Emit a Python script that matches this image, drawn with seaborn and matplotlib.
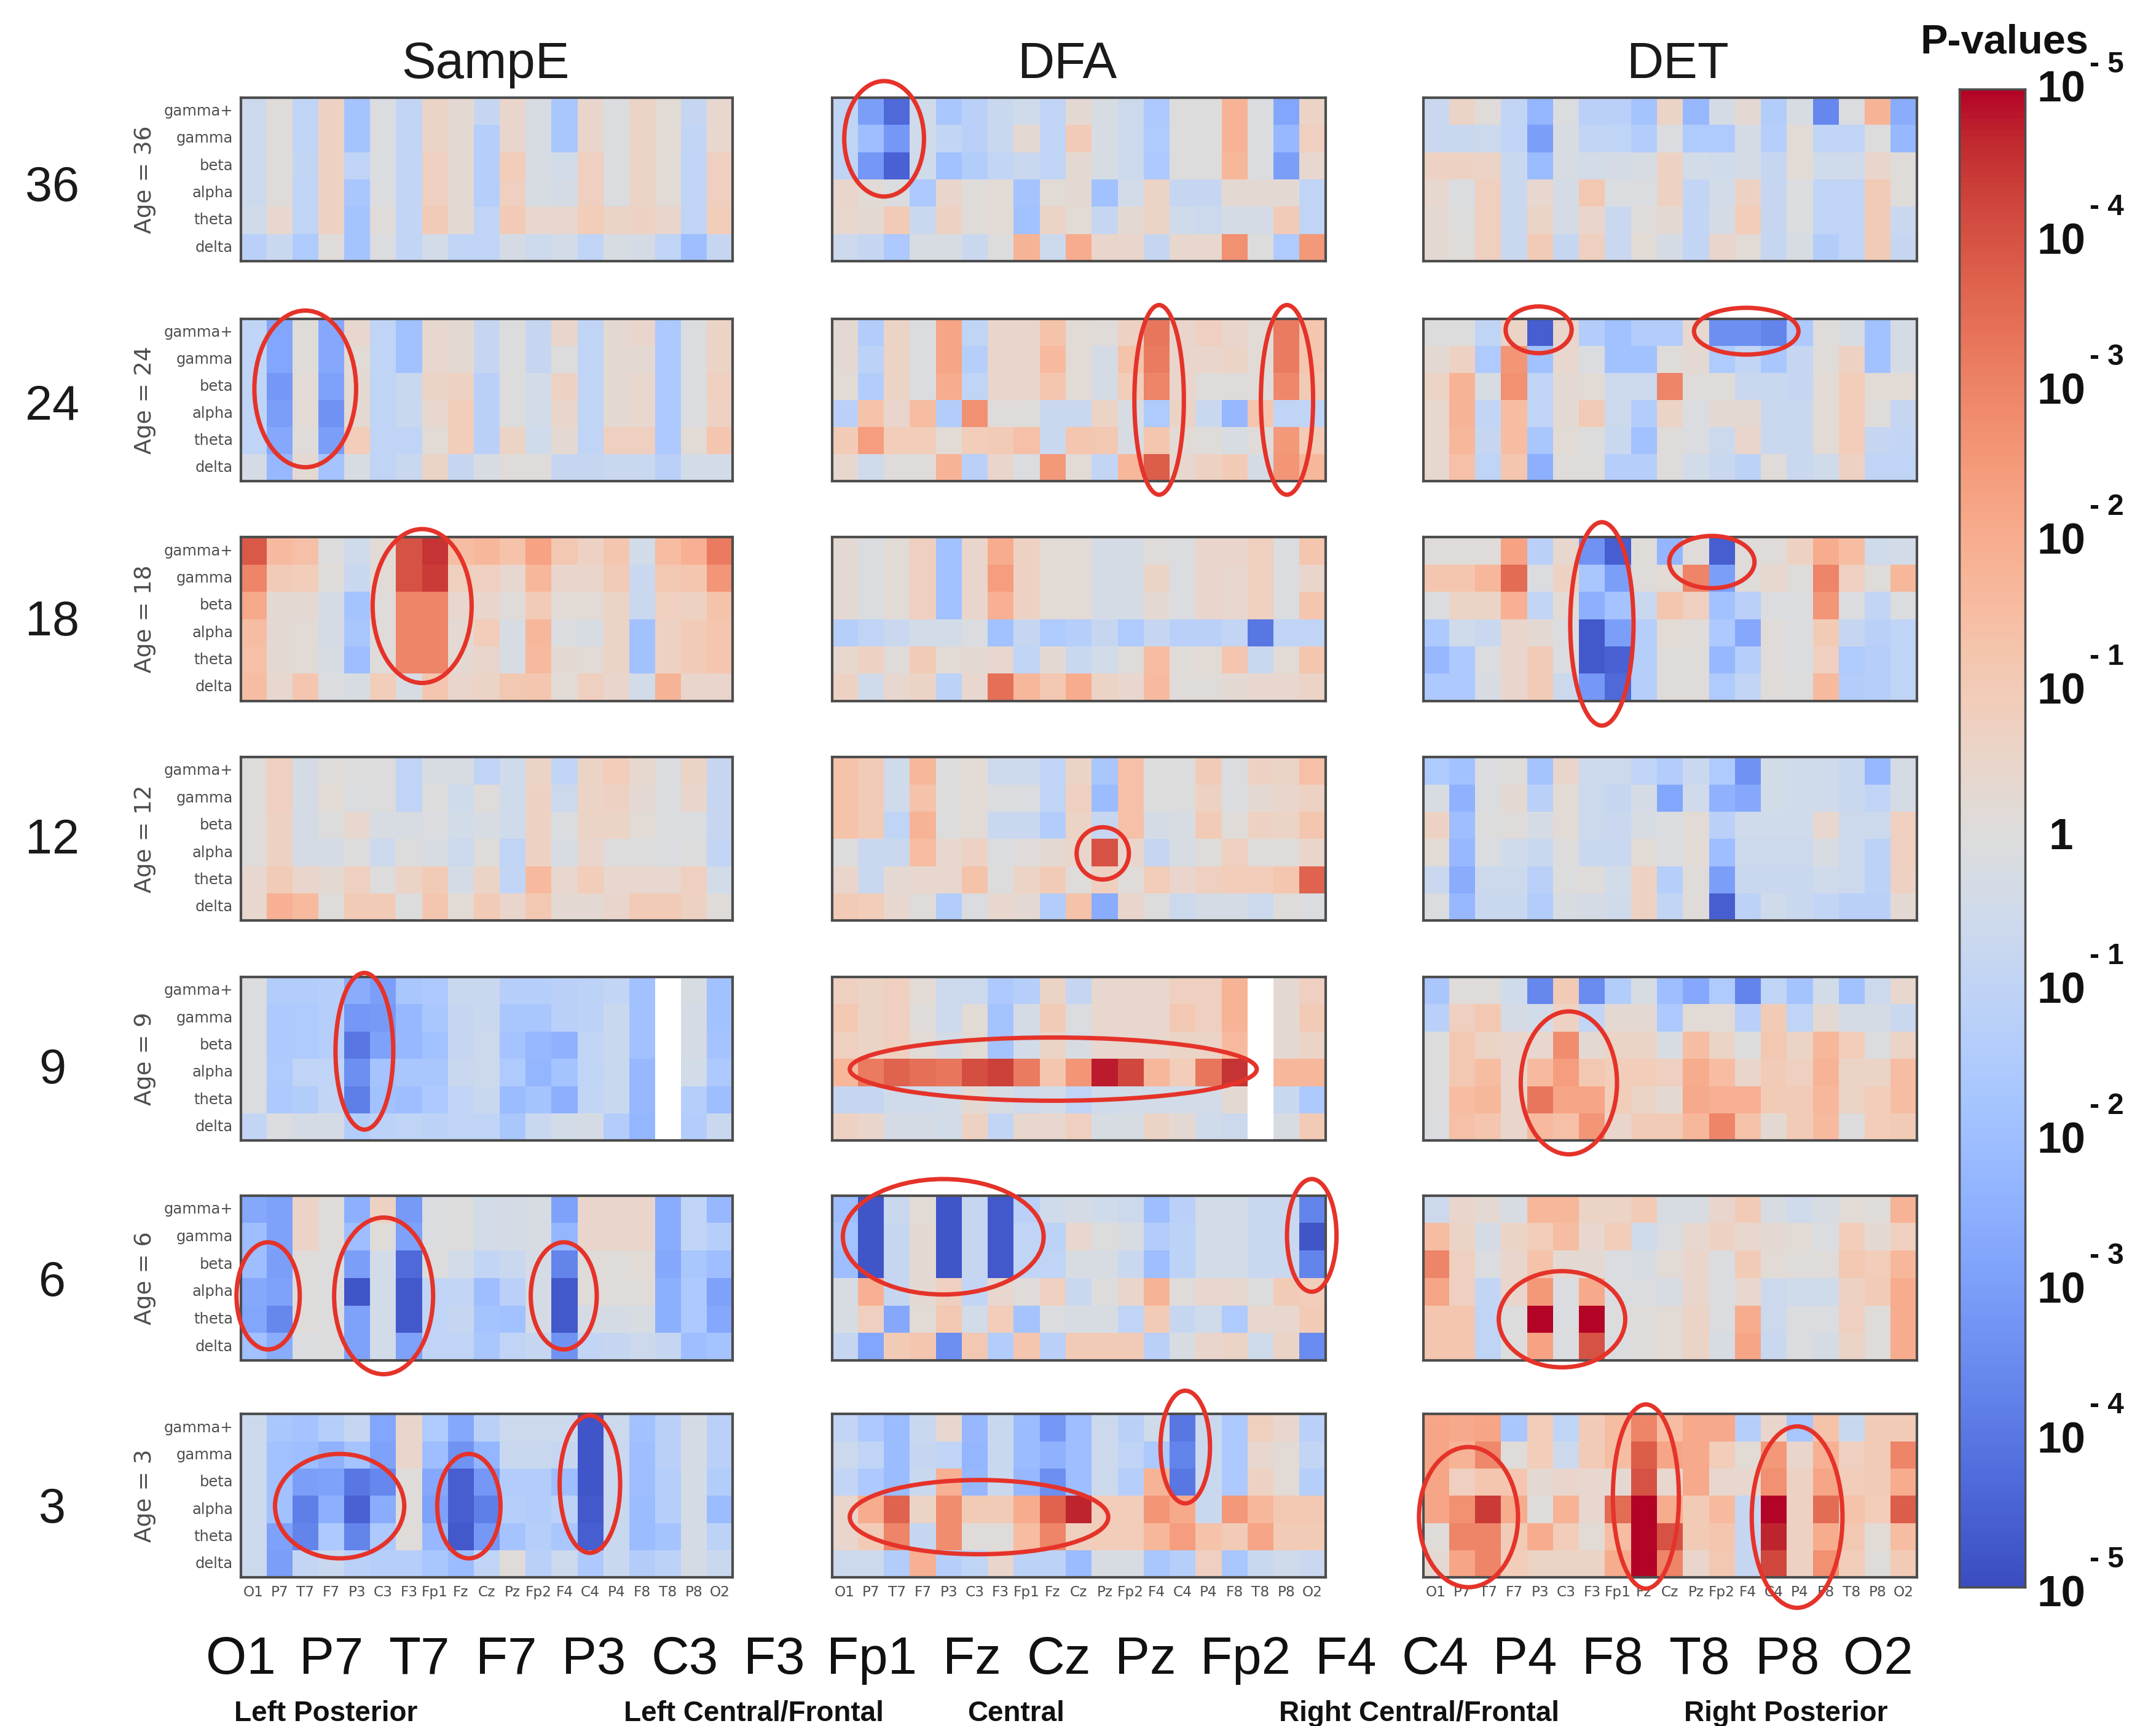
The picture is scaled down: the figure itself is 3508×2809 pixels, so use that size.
import matplotlib
matplotlib.use('Agg')
import matplotlib.pyplot as plt
from matplotlib.patches import Ellipse
import numpy as np
import pandas as pd
import seaborn as sns

nan = np.nan

electrodes = ['O1', 'P7', 'T7', 'F7', 'P3', 'C3', 'F3', 'Fp1', 'Fz', 'Cz', 'Pz', 'Fp2', 'F4', 'C4', 'P4', 'F8', 'T8', 'P8', 'O2']
bands = ['gamma+', 'gamma', 'beta', 'alpha', 'theta', 'delta']
ages = [36, 24, 18, 12, 9, 6, 3]
measures = ['SampE', 'DFA', 'DET']
regions = ['Left Posterior', 'Left Central/Frontal', 'Central', 'Right Central/Frontal', 'Right Posterior']

# signed log10(p): red = positive, blue = negative
sampe_36 = [[-.6,.1,-1,.7,-1.8,-.1,-.9,.6,.3,-.8,.5,-.2,-1.7,.5,-.1,.6,.2,-.8,.4],
            [-.6,.1,-1,.7,-1.8,-.1,-.9,.6,.3,-1.3,.5,-.2,-1.7,.5,-.1,.6,.2,-.9,.4],
            [-.6,.1,-.9,.7,-1,-.1,-.9,.8,.3,-1.3,.9,-.2,-.4,.8,-.1,.6,.2,-1,.8],
            [-.6,.1,-1,.7,-1.7,-.1,-.9,.8,.3,-1.3,.8,-.2,-.3,.8,-.1,.6,.2,-1,.8],
            [-.5,.4,-1,.7,-1.8,.1,-.9,1,.3,-1,1,.4,.4,.9,.6,.7,.5,-1,.9],
            [-1.2,-.7,-1.5,.1,-1.8,-.1,-.9,-.4,-1,-1,-.3,-.6,-.4,-1,-.2,-.3,-1,-2,-.8]]
sampe_24 = [[-1,-2.8,.1,-2.7,.4,-1,-1.9,.4,.3,-.8,0,-.8,.5,-1,.3,.5,-1.6,-.1,.6],
            [-1,-2.8,.1,-2.7,.2,-1,-1.9,.4,.3,-.8,0,-.8,0,-1,.3,.3,-1.6,-.1,.6],
            [-1,-3.2,.2,-2.9,.3,-1,-.7,.6,.7,-1.2,0,-.4,.7,-1,.3,.4,-1.6,-.1,.8],
            [-1,-3,.2,-3.3,.3,-1,-.7,.4,.9,-1.2,0,-.4,.5,-1,.3,.4,-1.6,-.1,.7],
            [-1,-2.7,.1,-3,.9,-1,-1,.2,.9,-1.2,.6,-.5,.3,-1,.8,.8,-1.6,.2,1.2],
            [-.3,-2.2,.3,-1.8,-.2,-1,-.7,.6,-.8,-.2,.1,.1,-.8,-.8,-.7,-.7,-1.2,-.4,-.4]]
sampe_18 = [[3.9,1.6,1.4,0,-.5,.2,4,4.5,1.5,1.7,1.3,2.3,1.1,.7,1.2,-.4,1.5,1.9,3.2],
            [3,1,.9,.1,-.7,.2,4,4.4,.8,.8,.4,1.7,.5,.5,1,-.7,1.1,1.2,2.6],
            [2.1,.3,.3,-.3,-1.8,.1,3,3,.4,.5,.1,1,.2,.2,.6,-.7,.8,.7,1.3],
            [1.5,.3,.2,-.3,-1.7,.1,3,3,.3,.9,-.2,1.7,-.1,-.2,.6,-1.9,.7,1,1.2],
            [1.4,.3,.2,-.2,-2,.1,3,3,.3,.5,-.2,1.6,.3,.2,.6,-1.9,.7,1,1.2],
            [1.5,.4,1.2,-.1,-.2,.9,-.2,1.2,.5,.6,1.1,1.2,.2,.8,.5,-.4,1.8,.5,.5]]
sampe_12 = [[.1,.8,-.3,.1,0,0,-1,-.2,-.2,-1,-.5,.6,-1,.6,.9,.4,-.1,.6,-.8],
            [.1,.8,-.3,.2,-.1,0,-1,0,-.5,.1,-.5,.7,-.6,.6,.7,.3,-.1,.5,-.8],
            [.1,.7,-.3,0,.4,-.2,-.2,-.1,-.4,-.2,-.5,.7,-.1,.6,.6,.2,-.1,-.1,-.8],
            [.1,.7,-.3,-.3,0,-.6,0,-.2,-.6,.1,-1,.7,-.2,.5,0,0,-.1,0,-.9],
            [.4,1,.5,.3,.8,0,.6,1,-.3,.6,-.9,1.6,.4,.9,.4,.4,.4,.8,-.4],
            [.4,1.9,1.6,.1,1,1,0,1.2,.2,1,.5,1.1,.3,.3,.5,1,1,.7,.1]]
sampe_9 = [[-.1,-1.4,-1.4,-1.3,-2.6,-3,-1.7,-1.6,-.7,-.7,-1.3,-1.3,-1.2,-1.1,-.9,-1.9,nan,-.2,-1.9],
           [-.1,-1.6,-1.5,-1.3,-3.2,-3.1,-2.2,-1.7,-.8,-.7,-1.7,-1.7,-1.2,-1.1,-.7,-1.9,nan,-.3,-1.9],
           [-.1,-1.6,-1.5,-1.3,-4,-2.9,-2.2,-1.9,-.8,-.6,-1.8,-2.2,-2.4,-.9,-.7,-1.9,nan,-.3,-1.8],
           [-.1,-1.5,-1,-1,-3.4,-1.8,-1.7,-1.7,-.7,-.6,-1.5,-2.3,-1.8,-1,-.7,-2.2,nan,-.4,-1.6],
           [-.1,-1.6,-1.4,-.9,-3.8,-1.9,-2,-1.6,-1,-.7,-2.1,-1.8,-2.5,-.9,-.7,-2.2,nan,-1.3,-2],
           [-.9,-.1,-.3,-.3,-1.4,-1.1,-1,-1.1,-1,-1,-1.7,-.7,-.4,-.3,-1.4,-2.3,nan,-1.4,-.7]]
sampe_6 = [[-2.7,-2.9,.6,.1,-2.5,.7,-3.1,-.1,0,-.4,-.3,-.2,-2.9,.5,.5,.5,-2.6,-1,-2.2],
           [-2,-2.9,.6,.1,-2,.1,-2.9,-.1,0,-.4,-.3,-.2,-2.3,.5,.5,.5,-2.6,-1,-1.3],
           [-2,-3,.1,0,-3,-.4,-4.3,0,-.4,-.9,-.7,-.3,-3.7,.1,.1,.2,-2.7,-1.7,-2],
           [-2.7,-2.9,.1,0,-4.8,-.4,-4.7,-1,-.9,-2,-1.2,-.3,-4.7,.1,.1,.1,-2.5,-1.6,-2.9],
           [-2.8,-3.6,.1,0,-2.9,-.4,-4.7,-1,-.8,-1.8,-1.9,-.3,-4.7,-.3,-.3,-.2,-2.5,-1.6,-2.7],
           [-1.9,-2.6,-.1,0,-2.9,-.4,-2.9,-1,-1,-1.7,-1,-.8,-3.3,-.9,-.8,-.6,-.8,-2,-1.8]]
sampe_3 = [[-.6,-1.7,-1.8,-1.3,-.8,-2.8,.5,-1.5,-2.7,-1.2,-.6,-.6,-.6,-4.8,-.6,-1.9,-1.2,-.3,-1.2],
           [-.6,-1.9,-2,-2.4,-1.8,-2.9,.5,-2,-3.3,-2.3,-.7,-.7,-.8,-4.8,-.7,-2,-1.2,-.3,-1.2],
           [-.6,-1.9,-3,-2.9,-4,-3.6,.1,-2.7,-4.6,-3.2,-1.4,-1.4,-2,-4.8,-.7,-2,-1.3,-.3,-1.4],
           [-.6,-1.9,-3.8,-2.5,-4.5,-2.6,.1,-2.9,-4.6,-3.8,-1.3,-1.4,-1.1,-4.7,-.7,-2.1,-1.3,-.3,-2.1],
           [-.6,-2.9,-3.7,-1.6,-3.7,-1.6,.1,-2.2,-4.7,-3.2,-1.8,-1.3,-1.7,-4.6,-.7,-2.1,-1.8,-.3,-1.1],
           [-.6,-3,-.9,-.7,-1.2,-1.3,-1.3,-1.7,-2.1,-1,.1,-1.2,-.6,-1.6,-.7,-1.4,-1.1,-.3,-.7]]

dfa_36 = [[-1,-3,-4.3,-.5,-1.7,-1.2,-.7,-.5,-1,.3,-.2,-.6,-1.6,0,0,1.8,-.1,-2.8,.6],
          [-1,-2,-3.2,-.5,-.9,-1.2,-.7,.3,-1,1,-.2,-.6,-1.5,0,0,1.8,-.1,-2.2,.8],
          [-1,-3.2,-4.5,-.5,-1.9,-1.4,-.9,-.7,-1,.3,-.2,-.6,-1.6,0,0,1.7,-.1,-3,.4],
          [.5,.2,-.1,-1.6,.5,.1,.2,-1.8,.2,.3,-1.9,-.4,.6,-.8,-.8,.3,.3,.3,-1],
          [.4,.3,1,-.7,.7,.1,.2,-1.9,.6,.2,-.8,.3,.6,-.5,-.6,-.3,-.3,1,-1],
          [-.6,-.8,-1.6,-.2,-.2,-.7,0,1.8,-.6,2,.5,.5,-.8,.4,.4,2.7,0,-1.5,2.5]]
dfa_24 = [[.3,-1.4,.6,-.1,2.2,-1,.5,.5,1.3,.2,.1,.7,3.3,.5,.8,.5,.2,3.2,1.2],
          [.3,-1.1,.6,-.1,2.2,-1.3,.5,.5,1.6,.2,-.3,1.3,3.2,.5,.5,.6,.2,3.2,1.2],
          [.2,-1.4,.6,-.1,2,-1,.5,.5,1.2,.2,-.3,.9,3,.5,.1,.1,.1,2.9,1],
          [-1.2,1.3,.5,1.5,-1.4,2.7,.1,.1,-.7,-.7,.6,-.2,-1.5,.6,-.7,-2.2,1.2,-1,-1],
          [1,2.4,.9,.9,.2,.9,1,1.4,-.7,1.2,1.1,-.2,1.2,.2,.1,-.2,.1,2.5,1],
          [.4,-.5,.1,.1,1.8,-1.2,.5,-.1,2.5,.2,-.9,1.7,3.8,.4,.7,1,-.3,2.6,1.7]]
dfa_18 = [[.3,-.1,.2,.8,-1.9,.5,2,.7,.2,.2,-.3,-.3,.1,-.1,.5,.5,.8,-.1,1.2],
          [.3,-.1,.2,.8,-1.9,.5,2.4,.7,.2,.2,-.3,-.3,.6,-.1,.5,.4,.8,-.1,.5],
          [.3,-.1,.2,.8,-1.9,.5,1.9,.7,.2,.2,-.3,-.3,.3,-.1,.5,.4,.8,-.1,1.2],
          [-1.3,-1,-.7,-.4,-.4,-.1,-1.9,-.8,-1.5,-1.3,-.8,-1.5,-.8,-1.2,-1.2,-.9,-4,-1,-1],
          [.4,.7,.1,1,.2,.3,.4,-1,.3,-.7,-.4,.1,1.5,.1,.2,1.2,-.7,.2,1.2],
          [.7,-.5,.4,.6,-1.1,.4,3.4,1.7,1.1,2,.6,.4,1.6,.1,.1,.3,.4,.4,.6]]
dfa_12 = [[1.3,1,-.5,1.7,0,.2,-.6,-.6,-1,.6,-1.7,1.4,0,0,1,-.1,.7,.6,1.4],
          [1.3,1,-.5,1.3,0,.2,-.1,-.1,-1,.8,-2.1,1.4,0,0,.7,-.1,.3,.5,.7],
          [1.3,1,-1,1.8,0,.2,-.7,-.7,-1.4,.6,-.8,1.4,-.3,-.2,1,.1,.7,.6,1.2],
          [0,-.7,-.7,1.5,.4,.7,-.1,.1,.3,.5,4,.5,-.8,-.2,.1,.8,.1,.1,.5],
          [.5,-.7,.3,.4,.4,1.3,0,.6,1,.1,.8,.1,.9,.5,.8,.9,.9,1.2,3.7],
          [1,.9,.4,.1,-1.4,-.1,.4,.3,-1.4,1.3,-2.6,.5,0,-.6,-.3,-.3,-.6,.1,-.1]]
dfa_9 = [[.8,.6,.8,.2,-.6,-.6,-1.6,-1.3,.6,-.8,.4,.4,.4,.8,.8,1.8,nan,.3,.8],
         [1.1,.6,.8,.1,-.6,.2,-1.8,-.3,1,-.1,.4,.4,.4,1.1,.8,1.8,nan,.3,1],
         [.8,.6,.8,.2,-.3,.2,-1.8,-.4,.6,-.2,.4,.4,.4,.6,.6,1.6,nan,.3,.6],
         [1.7,3.2,3.7,3.4,3.3,4.1,4.3,3.2,1.2,2.6,4.8,4.2,1.7,.9,3.3,4.5,nan,1.7,1.7],
         [-.8,-.8,-.5,-.5,-.4,.3,-.2,-.5,-.4,-1,-.5,-.4,-.4,-.4,-.4,.3,nan,-.7,-1.6],
         [.7,.5,-.3,-.3,-.4,.7,-.9,.4,.4,.8,-.2,-.2,.6,.3,-.5,-.6,nan,-.2,1]]
dfa_6 = [[-2,-4.8,-.7,.2,-4.8,-.8,-4.7,-1.2,-.5,-.3,-.5,-.6,-2,-1.2,-.4,-.4,-.7,-.7,-3.7],
         [-1.8,-4.8,-.8,.3,-4.8,-.8,-4.7,-1,-1.1,.4,0,-.2,-1.4,-1.1,-.4,-.4,-.7,-.7,-4.8],
         [-2,-4.8,-.8,.3,-4.8,-.8,-4.7,-1,-1,-.2,-.2,-.7,-2,-1.1,-.4,-.4,-.7,-.7,-3.7],
         [-.2,1.9,-.8,.3,.8,-.9,.4,.1,.8,-.7,0,.5,1.8,.1,.4,.4,0,1,.9],
         [-.2,.8,-2.7,.2,1.1,-.4,.9,-1.8,-.1,-.2,-.2,-1,1,-.8,-.5,-1.5,.4,.4,1],
         [-.8,-2.8,1,1.2,-3.4,1.1,-1.4,1.2,-1.2,1,1,1,-1.2,-.2,.5,.6,-.5,.6,-3.5]]
dfa_3 = [[-.9,-1.6,-2.1,-.7,.4,-2.2,-.7,-2.1,-3.2,-2,-.6,-1.2,-.5,-4,-.7,-1.6,.8,.4,-1.2],
         [-.6,-1,-2.1,-.8,-1,-2.3,-.7,-2.1,-2.4,-2,-.6,-1,-1.6,-3.7,-.7,-1.6,.4,.2,-.9],
         [-.9,-1.6,-2.1,-.7,1.9,-2.2,-.7,-2.2,-3.4,-2,-.6,-1.3,1.8,-4,-.7,-1.6,.7,.2,-1.3],
         [.5,2,3.7,.6,2.8,1,1,2,3.7,4.7,.9,.9,2.6,2.1,-.7,2.5,1.7,1.1,1.1],
         [.5,1,3,-.8,2.8,.1,.1,1.5,3,.8,.9,.9,1.7,2.4,1.3,1,2.2,1,1],
         [-.6,-.6,-1.4,1.9,-1.3,-1,.5,-1.1,-1.1,-2.1,-.2,-.2,-1.7,-1.3,.8,-1.7,-.7,-.5,-.7]]

det_36 = [[-.7,.6,.1,-.9,-2.3,-.1,-1.2,-1.2,-1.8,.6,-2.2,-.3,.3,-1.4,-.2,-3.6,-.1,1.8,-2.6],
          [-.7,-.7,-.6,-1,-3,-.2,-.9,-1,-1.4,-.1,-1.5,-1.5,-.3,-1.3,.2,-1,-1,0,-2.2],
          [.7,.7,.6,-.7,-2.1,-.2,-.4,-.3,-.2,.7,-.4,-.5,-.3,-.8,.2,-.5,-.5,.5,.1],
          [.4,-.1,.8,-.7,.4,-.3,1.1,-.1,-.1,.7,-.9,-.4,.7,-.8,-.1,-1,-1,1,.1],
          [.3,0,.8,-.7,.6,-.3,.5,-.7,.1,.3,-.9,-.3,.9,-.8,-.1,-1,-1,1,-.7],
          [.3,.1,.8,-.7,1,-.8,.8,-.7,.2,-.3,-.9,.5,.2,-.8,-.2,-1.4,-1,1,-.8]]
det_24 = [[0,0,-1,.6,-4.6,.5,-1.4,-1.9,-1.4,-1.4,.4,-3.4,-3.4,-3.7,-1.6,.1,-.2,-1.9,-.3],
          [.3,.7,-1.5,2.6,-1.9,.4,-.1,-1.9,-1.9,.1,.3,-1.5,-.9,-1.7,-.8,.1,.7,-1.9,-.3],
          [.6,1.8,-.2,2.7,-1,.3,.2,-.6,-.6,3,.1,.1,-.7,-.7,-.8,.2,.9,.2,.2],
          [.4,1.8,-.9,1.5,-1,.3,1,-.6,-1.4,.6,-.1,.3,.3,-.7,-.7,.2,.9,.1,-.8],
          [.4,1.7,-.8,1.5,-1.7,.2,0,-.7,-1.9,.1,-.1,-.6,.5,-.7,-.7,.2,.9,-.8,-.9],
          [.4,1.4,-1,1.2,-2.5,.1,.1,-1.3,-1.3,.1,-.4,-.7,-1.1,.1,-.7,-.5,.7,-1,-1]]
det_18 = [[.1,.1,.1,2.3,-1.2,.4,-3.3,-4.6,.1,-2.3,.1,-4.6,.1,.1,.7,2,1.5,-.5,-.4],
          [1.2,1.2,1.7,3.5,-.1,.7,-1.7,-3,.1,.2,3,-3,.1,.4,.1,3,.8,.1,1.7],
          [-.1,.6,.6,1.9,-.9,.2,-2.5,-1.8,-.7,1.2,.8,-1.9,-1.2,-.1,-.1,2.6,-.1,-.9,-.1],
          [-1.6,-.5,-.7,.5,.3,-.1,-4.7,-3,-1.3,.2,.1,-1.6,-2.7,.1,-.1,1,-.8,-1.2,-1],
          [-2.2,-1.6,-.1,.5,1,-.1,-4.7,-4.5,-1.3,.1,.1,-2.2,-1.3,.1,-.1,.8,-1.5,-1.3,-1],
          [-1.6,-1.6,-.2,.5,1,-.6,-3.2,-4.3,-1.3,.1,.1,-1.5,-.9,.1,0,1.6,-1.4,-1.3,-1]]
det_12 = [[-1.5,-1.9,-.1,.1,-1.8,.5,-.6,-.6,-1,-1.4,-.7,-1.5,-3.3,-.4,-.5,-.5,-.7,-2.2,-.3],
          [-.2,-2.4,-.1,.3,-1.2,.2,-.6,-.8,-.3,-2.8,-.5,-2.4,-2.7,-.4,-.5,-.5,-.7,-1,-.3],
          [.7,-2,0,.1,-.3,.2,-.6,-.7,-.2,-.1,.2,-1.2,-.5,-.5,-.5,.4,-.6,-.6,.8],
          [.2,-2.2,-.1,-.5,-.7,0,-.7,-.7,.2,-.1,.2,-2,-.6,-.6,-.6,-.2,-.6,-1.1,.8],
          [-.7,-2.6,-.6,-.6,-1.2,0,.1,-.4,.7,-1.3,.1,-3,-.7,-.7,-.7,-.5,-.6,-1.1,.7],
          [-.1,-2.2,-.7,-.7,-1.4,-.2,-.3,-.5,.7,-.9,.1,-4.6,-1.1,-.5,-.7,-.9,-1.2,-1.2,.3]]
det_9 = [[-1.7,.1,.1,-.5,-3.6,1,-3.5,-1.4,-.2,-2,-2.7,-1.5,-3.7,-1,-1.8,-.4,-1.9,-.6,.4],
         [-1.2,.8,1.1,-.3,-.4,.7,-.9,.3,.3,-1.6,.2,.2,-1.2,1,-1,.3,-.3,-.3,-.7],
         [0,1.1,.6,.5,.4,2.8,.3,.6,.6,-.2,1.5,.6,0,1.1,.6,1.7,.9,-.1,.6],
         [0,1.1,1.5,.5,1.6,2.4,1.1,.9,.9,.8,2,1.5,.5,1,.8,1.8,.6,.6,1.5],
         [0,1.5,1.7,.5,3.3,2.2,2.2,.9,.6,.3,2.1,1.9,1.9,1,1,1.7,.6,.9,1.5],
         [-.1,1.4,1.2,.5,1.6,1.4,2.6,.5,1,1,1.7,3,1.3,.3,1,1.6,0,.9,1]]
det_6 = [[-.6,.5,.3,-.2,1.7,1.7,.6,.6,1,-.2,-.2,.5,1,-.2,-.5,-.2,.2,.1,1.8],
         [1.5,.6,-.3,.6,.9,1.5,.4,.9,-.5,-.1,.4,.7,.4,.3,.2,-.1,.9,.3,.8],
         [3,.8,-.1,.5,1.3,.3,.3,-.1,-.2,.2,.5,-.1,1,.2,.1,.1,1.1,.9,1.7],
         [2.2,.8,-.9,.5,2.5,-.1,2.1,-.1,-.1,-.2,.5,-.1,.4,-.6,-.5,-.5,.7,1,2],
         [1.2,1.2,-1,0,5,-.1,5,0,.1,.2,.6,-.1,2,-.6,-.1,-.1,.8,.1,2],
         [1.2,1.2,-1,0,2.3,-.1,4,-.1,.1,.2,.6,-.2,2.2,-.7,-.1,-.3,.6,.1,2]]
det_3 = [[2.2,2.1,2.2,-1.7,.9,-1,1,1.5,3,1.5,2.1,2.1,-1.3,.5,-1.7,1.3,-.7,1,1],
         [2.2,1.8,2.9,.1,.9,-.6,1,1.5,3.8,2.2,2.1,.9,.2,2.5,.5,1.9,.8,1,3],
         [2.2,.8,1.2,1.2,.3,.5,.4,.3,4,.4,2.1,.4,.4,2.7,.7,2.2,.9,1,2],
         [2.2,2.7,4.4,2,.1,1.8,.4,3.5,5,2,1,1.6,-.8,5,.7,3.5,1.3,.9,3.8],
         [.1,3,3,1,2,.9,.2,1.5,5,4,1,1.2,-.8,4.7,.7,2,1.1,.2,1.5],
         [.3,2.2,3,.9,.6,.6,.6,2,5,3,.5,1.1,-.8,4.2,.7,2.7,.9,.1,1]]

panels = [[sampe_36, sampe_24, sampe_18, sampe_12, sampe_9, sampe_6, sampe_3],
          [dfa_36, dfa_24, dfa_18, dfa_12, dfa_9, dfa_6, dfa_3],
          [det_36, det_24, det_18, det_12, det_9, det_6, det_3]]

# Layout, in the pixels of the 1568x1256 view
W, H = 1568, 1256
col_x = [(175, 533), (605, 964), (1035, 1394)]
row_y = [(71, 190), (232, 350), (391, 510), (551, 670), (711, 830), (870, 990), (1029, 1148)]
age_y = [137, 296, 453, 612, 779, 934, 1099]
title_x = [353, 776, 1220]
big_x = [175, 241, 305, 368, 432, 498, 563, 634, 707, 770, 833, 906, 979, 1044, 1109, 1173, 1236, 1300, 1366]
region_x = [237, 548, 739, 1032, 1299]
cbar_box = (1425, 65, 1473, 1155)
cbar_ticks = [5, 4, 3, 2, 1, 0, -1, -2, -3, -4, -5]
cbar_y = [66, 177, 286, 395, 504, 610, 722, 831, 940, 1049, 1161]
cbar_sup = ['5', '4', '3', '2', '1', '', '1', '2', '3', '4', '5']

# red ellipses: centre x, centre y, width, height
ellipses = [(222, 283, 74, 114), (307, 441, 72, 112), (265, 765, 42, 114), (195, 943, 46, 78),
            (279, 943, 72, 114), (410, 943, 48, 78), (247, 1096, 94, 76), (341, 1096, 46, 76),
            (429, 1080, 44, 100), (643, 101, 58, 84), (843, 291, 36, 138), (936, 291, 38, 138),
            (802, 621, 38, 38), (766, 778, 296, 46), (686, 900, 146, 84), (954, 899, 36, 82),
            (712, 1104, 188, 54), (862, 1053, 36, 82), (1119, 240, 48, 34), (1270, 241, 76, 34),
            (1165, 454, 46, 148), (1245, 409, 62, 38), (1141, 788, 70, 104), (1136, 960, 92, 70),
            (1068, 1104, 72, 102), (1197, 1089, 48, 134), (1307, 1104, 66, 132)]

dark = '#4d4d4d'
sns.set_theme(style='white')
plt.rcParams['font.family'] = ['Liberation Sans', 'DejaVu Sans']


def box(x0, y0, x1, y1):
    return [x0 / W, 1 - y1 / H, (x1 - x0) / W, (y1 - y0) / H]


fig = plt.figure(figsize=(3508 / 300, 2809 / 300), dpi=300, facecolor='white')
cax = fig.add_axes(box(*cbar_box))

for c, (x0, x1) in enumerate(col_x):
    for r, (y0, y1) in enumerate(row_y):
        ax = fig.add_axes(box(x0, y0, x1, y1))
        df = pd.DataFrame(panels[c][r], index=bands, columns=electrodes)
        first = c == 0 and r == 0
        sns.heatmap(df, ax=ax, cmap='coolwarm', vmin=-5, vmax=5, square=False,
                    cbar=first, cbar_ax=cax if first else None,
                    xticklabels=r == len(ages) - 1, yticklabels=c == 0)
        ax.tick_params(length=0, pad=3, colors=dark)
        if c == 0:
            ax.set_yticklabels(bands, rotation=0, fontsize=5.8, family='DejaVu Sans', color=dark)
            ax.set_ylabel(f'Age = {ages[r]}', fontsize=9, family='DejaVu Sans', color=dark, labelpad=3)
        if r == len(ages) - 1:
            ax.set_xticklabels(electrodes, rotation=0, fontsize=5.6, family='DejaVu Sans', color=dark)
        for s in ax.spines.values():
            s.set_visible(True)
            s.set_color(dark)
            s.set_linewidth(1)

cax.set_yticks(cbar_ticks[1:-1])
cax.set_yticklabels([])
cax.tick_params(axis='y', direction='in', length=3, width=0.5, color='#7a2020', pad=0)
for s in cax.spines.values():
    s.set_visible(True)
    s.set_color(dark)
    s.set_linewidth(0.8)

# overlay in view pixels for ellipses and outer labels
over = fig.add_axes([0, 0, 1, 1], zorder=10)
over.set_xlim(0, W)
over.set_ylim(H, 0)
over.axis('off')

for cx, cy, w, h in ellipses:
    over.add_patch(Ellipse((cx, cy), w, h, fill=False, edgecolor='#e5332a', linewidth=1.7))

for name, x in zip(measures, title_x):
    over.text(x, 47, name, ha='center', va='center', fontsize=20, color='#1a1a1a')
for age, y in zip(ages, age_y):
    over.text(38, y, str(age), ha='center', va='center', fontsize=19, color='#1a1a1a')
for name, x in zip(electrodes, big_x):
    over.text(x, 1208, name, ha='center', va='center', fontsize=20.5, color='#111111')
for name, x in zip(regions, region_x):
    over.text(x, 1247, name, ha='center', va='center', fontsize=11, fontweight='bold', color='#111111')

over.text(1458, 31, 'P-values', ha='center', va='center', fontsize=16, fontweight='bold', color='#111111')
for i, (sup, y) in enumerate(zip(cbar_sup, cbar_y)):
    if sup == '':
        over.text(1499, y, '1', ha='center', va='center', fontsize=17, fontweight='bold', color='#111111')
    else:
        over.text(1499, y, '10', ha='center', va='center', fontsize=17, fontweight='bold', color='#111111')
        shift = 19 if i == 0 else 26
        over.text(1532, y - shift, '- ' + sup, ha='center', va='center', fontsize=11.5, fontweight='bold', color='#111111')

fig.savefig('out.png', dpi=300, facecolor='white')
